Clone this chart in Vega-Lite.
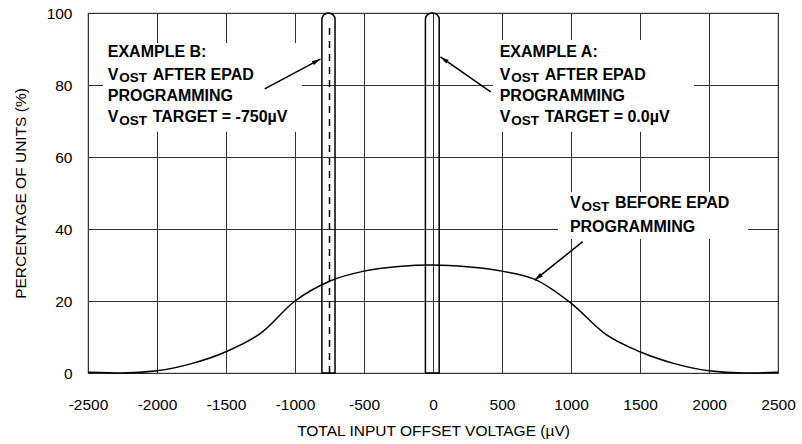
{
  "$schema": "https://vega.github.io/schema/vega-lite/v6.json",
  "width": 690,
  "height": 360,
  "autosize": "none",
  "padding": {"left": 88, "top": 13, "right": 24, "bottom": 71},
  "background": "white",
  "config": {
    "view": {"stroke": "#555", "strokeWidth": 1.2},
    "font": "Liberation Sans",
    "axis": {
      "domain": false, "ticks": false, "tickSize": 0, "grid": true,
      "gridColor": "#333", "gridWidth": 1, "gridOpacity": 1,
      "labelFont": "Liberation Sans", "labelFontSize": 15.5, "labelColor": "#000",
      "titleFont": "Liberation Sans", "titleFontSize": 15.5, "titleFontWeight": "normal", "titleColor": "#000"
    }
  },
  "datasets": {
    "curve": [
      {"v": -2500, "pct": 0.2}, {"v": -2250, "pct": 0}, {"v": -2000, "pct": 0.6}, {"v": -1750, "pct": 2.6},
      {"v": -1500, "pct": 5.9}, {"v": -1250, "pct": 11}, {"v": -1000, "pct": 20}, {"v": -750, "pct": 25.5},
      {"v": -500, "pct": 28.3}, {"v": -250, "pct": 29.6}, {"v": 0, "pct": 30}, {"v": 250, "pct": 29.5},
      {"v": 500, "pct": 28.3}, {"v": 750, "pct": 25.8}, {"v": 1000, "pct": 19.4}, {"v": 1250, "pct": 10.8},
      {"v": 1500, "pct": 5.9}, {"v": 1750, "pct": 2.6}, {"v": 2000, "pct": 0.6}, {"v": 2250, "pct": 0},
      {"v": 2500, "pct": 0.2}
    ],
    "tubes": [{"v": -805, "v2": -710}, {"v": -55, "v2": 45}],
    "target": [{"v": -750, "pct": 0, "pct2": 97}],
    "boxes": [
      {"v": -2391, "v2": -949, "pct": 67, "pct2": 91.7},
      {"v": 435, "v2": 1891, "pct": 67, "pct2": 92.5},
      {"v": 906, "v2": 2283, "pct": 37.2, "pct2": 50.3}
    ],
    "arrows": [
      {"name": "B", "v": -1220, "pct": 78.9, "v2": -816, "pct2": 87.2},
      {"name": "A", "v": 418, "pct": 78.1, "v2": 54, "pct2": 87.8},
      {"name": "before", "v": 1085, "pct": 36.5, "v2": 737, "pct2": 25.8}
    ],
    "plain": [
      {"v": -2357, "pct": 87.8, "t": "EXAMPLE B:"},
      {"v": -2357, "pct": 75.6, "t": "PROGRAMMING"},
      {"v": 483, "pct": 87.8, "t": "EXAMPLE A:"},
      {"v": 483, "pct": 75.6, "t": "PROGRAMMING"},
      {"v": 992, "pct": 39.25, "t": "PROGRAMMING"}
    ],
    "vlines": [
      {"v": -2357, "pct": 81.4, "t": "AFTER EPAD"},
      {"v": -2357, "pct": 69.7, "t": "TARGET = -750µV"},
      {"v": 483, "pct": 81.4, "t": "AFTER EPAD"},
      {"v": 483, "pct": 69.7, "t": "TARGET = 0.0µV"},
      {"v": 992, "pct": 45.75, "t": "BEFORE EPAD"}
    ]
  },
  "layer": [
    {
      "data": {"name": "curve"},
      "mark": {"type": "line", "interpolate": "monotone", "color": "black", "strokeWidth": 1.5},
      "encoding": {
        "x": {
          "field": "v", "type": "quantitative",
          "scale": {"domain": [-2500, 2500], "nice": false, "zero": false},
          "axis": {
            "values": [-2500, -2000, -1500, -1000, -500, 0, 500, 1000, 1500, 2000, 2500],
            "labelExpr": "'' + datum.value",
            "title": "TOTAL INPUT OFFSET VOLTAGE (µV)",
            "labelBaseline": "alphabetic", "labelPadding": 36, "labelFlush": false, "labelOverlap": false,
            "titleY": 62, "titleBaseline": "alphabetic"
          }
        },
        "y": {
          "field": "pct", "type": "quantitative",
          "scale": {"domain": [0, 100], "nice": false},
          "axis": {
            "values": [0, 10, 20, 30, 40, 50, 60, 70, 80, 90, 100],
            "labelExpr": "datum.value % 20 === 0 ? '' + datum.value : ''",
            "title": "PERCENTAGE OF UNITS (%)",
            "labelPadding": 16, "labelBaseline": "middle",
            "titleX": -68, "titleY": 180, "titleBaseline": "middle", "titleAngle": -90, "titleAlign": "center"
          }
        }
      }
    },
    {
      "data": {"name": "tubes"},
      "mark": {"type": "rect", "fill": "white", "fillOpacity": 0, "stroke": "black", "strokeWidth": 1.5, "cornerRadiusTopLeft": 6.5, "cornerRadiusTopRight": 6.5},
      "encoding": {
        "x": {"field": "v", "type": "quantitative"},
        "x2": {"field": "v2"},
        "y": {"datum": 0, "type": "quantitative"},
        "y2": {"datum": 100}
      }
    },
    {
      "data": {"name": "target"},
      "mark": {"type": "rule", "color": "black", "strokeWidth": 1.5, "strokeDash": [7, 6]},
      "encoding": {
        "x": {"field": "v", "type": "quantitative"},
        "y": {"field": "pct", "type": "quantitative"},
        "y2": {"field": "pct2"}
      }
    },
    {
      "data": {"name": "boxes"},
      "mark": {"type": "rect", "fill": "white", "stroke": null},
      "encoding": {
        "x": {"field": "v", "type": "quantitative"},
        "x2": {"field": "v2"},
        "y": {"field": "pct", "type": "quantitative"},
        "y2": {"field": "pct2"}
      }
    },
    {
      "data": {"name": "arrows"},
      "mark": {"type": "rule", "color": "black", "strokeWidth": 1.5},
      "encoding": {
        "x": {"field": "v", "type": "quantitative"},
        "y": {"field": "pct", "type": "quantitative"},
        "x2": {"field": "v2"},
        "y2": {"field": "pct2"}
      }
    },
    {
      "data": {"name": "arrows"},
      "transform": [{"filter": "datum.name === 'B'"}],
      "mark": {"type": "point", "shape": "M0,0L-0.45,1.7L0.45,1.7Z", "size": 100, "filled": true, "color": "black", "opacity": 1, "strokeWidth": 0, "angle": 61.7},
      "encoding": {"x": {"field": "v2", "type": "quantitative"}, "y": {"field": "pct2", "type": "quantitative"}}
    },
    {
      "data": {"name": "arrows"},
      "transform": [{"filter": "datum.name === 'A'"}],
      "mark": {"type": "point", "shape": "M0,0L-0.45,1.7L0.45,1.7Z", "size": 100, "filled": true, "color": "black", "opacity": 1, "strokeWidth": 0, "angle": 304.6},
      "encoding": {"x": {"field": "v2", "type": "quantitative"}, "y": {"field": "pct2", "type": "quantitative"}}
    },
    {
      "data": {"name": "arrows"},
      "transform": [{"filter": "datum.name === 'before'"}],
      "mark": {"type": "point", "shape": "M0,0L-0.45,1.7L0.45,1.7Z", "size": 100, "filled": true, "color": "black", "opacity": 1, "strokeWidth": 0, "angle": 231.4},
      "encoding": {"x": {"field": "v2", "type": "quantitative"}, "y": {"field": "pct2", "type": "quantitative"}}
    },
    {
      "data": {"name": "plain"},
      "mark": {"type": "text", "align": "left", "baseline": "alphabetic", "fontSize": 16, "fontWeight": "bold", "font": "Liberation Sans", "color": "black"},
      "encoding": {
        "x": {"field": "v", "type": "quantitative"},
        "y": {"field": "pct", "type": "quantitative"},
        "text": {"field": "t"}
      }
    },
    {
      "data": {"name": "vlines"},
      "mark": {"type": "text", "text": "V", "align": "left", "baseline": "alphabetic", "fontSize": 16, "fontWeight": "bold", "font": "Liberation Sans", "color": "black"},
      "encoding": {
        "x": {"field": "v", "type": "quantitative"},
        "y": {"field": "pct", "type": "quantitative"}
      }
    },
    {
      "data": {"name": "vlines"},
      "mark": {"type": "text", "text": "OST", "align": "left", "baseline": "alphabetic", "dx": 11.5, "dy": 2.5, "fontSize": 13.5, "fontWeight": "bold", "font": "Liberation Sans", "color": "black"},
      "encoding": {
        "x": {"field": "v", "type": "quantitative"},
        "y": {"field": "pct", "type": "quantitative"}
      }
    },
    {
      "data": {"name": "vlines"},
      "mark": {"type": "text", "align": "left", "baseline": "alphabetic", "dx": 45, "fontSize": 16, "fontWeight": "bold", "font": "Liberation Sans", "color": "black"},
      "encoding": {
        "x": {"field": "v", "type": "quantitative"},
        "y": {"field": "pct", "type": "quantitative"},
        "text": {"field": "t"}
      }
    }
  ]
}
